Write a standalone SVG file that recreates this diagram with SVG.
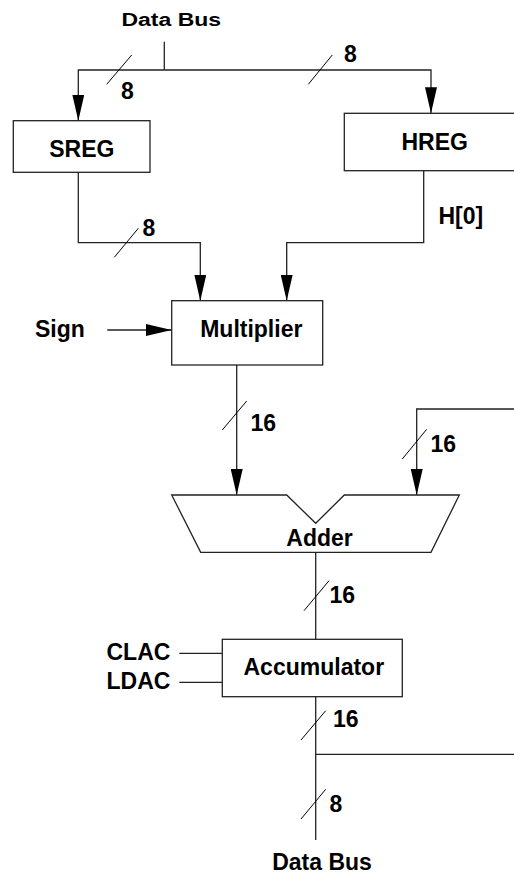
<svg xmlns="http://www.w3.org/2000/svg" width="514" height="874" viewBox="0 0 514 874">
<defs>
<marker id="arr" markerUnits="userSpaceOnUse" markerWidth="26" markerHeight="12" refX="26" refY="6" orient="auto">
<path d="M0,0 L26,6 L0,12 z" fill="#000"/>
</marker>
<style>
.t{font-family:"Liberation Sans",Arial,sans-serif;font-weight:bold;font-size:23px;fill:#000}
.m{text-anchor:middle}
.box{fill:#fff;stroke:#222;stroke-width:1.3}
.w{fill:none;stroke:#222;stroke-width:1.3}
.s{fill:none;stroke:#000;stroke-width:1}
</style>
</defs>
<rect width="514" height="874" fill="#fff"/>
<g id="connectors">
<path class="w" d="M164.3,41.7 V70"/>
<path class="w" d="M164.3,70 H78.3 V120.7" marker-end="url(#arr)"/>
<path class="w" d="M164.3,70 H431 V113.3" marker-end="url(#arr)"/>
<path class="w" d="M78.3,172.3 V242.7 H200.3 V300.7" marker-end="url(#arr)"/>
<path class="w" d="M423.7,170.7 V242.7 H286.7 V300.7" marker-end="url(#arr)"/>
<path class="w" d="M107.3,330 H171.7" marker-end="url(#arr)"/>
<path class="w" d="M236.7,365 V495" marker-end="url(#arr)"/>
<path class="w" d="M520,409 H416.7 V495" marker-end="url(#arr)"/>
<path class="w" d="M315.7,552.3 V639.3"/>
<path class="w" d="M179.3,653.3 H222.3"/>
<path class="w" d="M179.3,682.3 H222.3"/>
<path class="w" d="M315.7,696.7 V840"/>
<path class="w" d="M315.7,754.3 H520"/>
<path class="s" d="M106.7,84.3 L131.7,55"/>
<path class="s" d="M308.3,84.3 L332.3,55"/>
<path class="s" d="M114.3,257.3 L138.3,228.3"/>
<path class="s" d="M222.3,430 L246.7,401"/>
<path class="s" d="M402.3,459 L426.7,429.3"/>
<path class="s" d="M304,610.7 L329,580.7"/>
<path class="s" d="M301,740 L325.7,710.7"/>
<path class="s" d="M301,819 L325.7,789.3"/>
<text class="t" x="121" y="99">8</text>
<text class="t" x="344" y="61.7">8</text>
<text class="t" x="142.5" y="235.7">8</text>
<text class="t" x="438.5" y="224">H[0]</text>
<text class="t" x="250.5" y="430.7">16</text>
<text class="t" x="430.5" y="452.3">16</text>
<text class="t" x="329.5" y="603.3">16</text>
<text class="t" x="333" y="726.7">16</text>
<text class="t" x="329.5" y="811.7">8</text>
</g>
<g id="databus_top">
<text class="t m" transform="translate(171.3,26) scale(1,0.78)">Data Bus</text>
</g>
<g id="sreg">
<rect class="box" x="13.3" y="120.7" width="136.7" height="51.6"/>
<text class="t m" x="81.8" y="156.7">SREG</text>
</g>
<g id="hreg">
<rect class="box" x="344.3" y="113.3" width="190" height="57.4"/>
<text class="t m" x="434.7" y="150">HREG</text>
</g>
<g id="sign">
<text class="t" x="35" y="336.7">Sign</text>
</g>
<g id="multiplier">
<rect class="box" x="171.7" y="300.7" width="151" height="64.3"/>
<text class="t m" x="251.3" y="336.7">Multiplier</text>
</g>
<g id="adder">
<path class="box" d="M171.7,495 H286.7 L315.7,523.3 L344.3,495 H459.3 L431,552.3 H200.7 Z"/>
<text class="t m" x="319.5" y="545.7">Adder</text>
</g>
<g id="clac"><text class="t" x="106.5" y="660">CLAC</text></g>
<g id="ldac"><text class="t" x="106.5" y="689.3">LDAC</text></g>
<g id="accumulator">
<rect class="box" x="222.3" y="639.3" width="180" height="57.4"/>
<text class="t m" x="313.8" y="675">Accumulator</text>
</g>
<g id="databus_bottom">
<text class="t m" x="322" y="870">Data Bus</text>
</g>
</svg>
